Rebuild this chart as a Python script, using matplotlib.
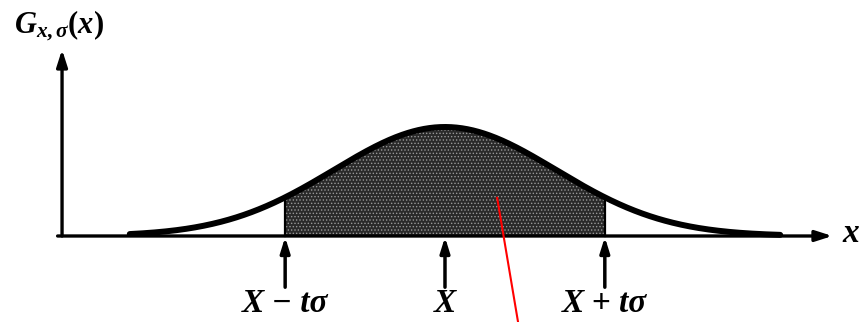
import numpy as np
import matplotlib
matplotlib.use('Agg')
import matplotlib.pyplot as plt

# Gaussian parameters (X = mean, sigma = width, t = number of sigmas shaded)
x_mean = 0.0
sigma = 1.0
t = 1.44
tick_positions = [x_mean - t * sigma, x_mean, x_mean + t * sigma]
tick_labels = ['X \u2212 t\u03c3', 'X', 'X + t\u03c3']
# pointer line drawn over the shaded area (x, fraction of peak height)
pointer_x = [0.47, 0.66]
pointer_y = [0.35, -0.80]

plt.rcParams['mathtext.fontset'] = 'custom'
plt.rcParams['mathtext.it'] = 'Liberation Serif:italic:bold'
plt.rcParams['mathtext.rm'] = 'Liberation Serif:bold'
plt.rcParams['hatch.linewidth'] = 0.6

serif = dict(family='Liberation Serif', style='italic', weight='bold')

peak = 1.0 / (sigma * np.sqrt(2 * np.pi))


def gauss(x):
    return peak * np.exp(-0.5 * ((x - x_mean) / sigma) ** 2)


fig = plt.figure(figsize=(8.61, 3.22), dpi=100)
ax = fig.add_axes([0, 0, 1, 1])
ax.set_xlim(-4.009, 3.748)
ax.set_ylim(-0.789 * peak, 2.165 * peak)
ax.axis('off')

# shaded region between X - t*sigma and X + t*sigma
xs = np.linspace(tick_positions[0], tick_positions[2], 300)
ax.fill_between(xs, 0, gauss(xs), facecolor='#2a2a2a', edgecolor='#999999',
                hatch='.....', linewidth=0, zorder=2)
for xe in (tick_positions[0], tick_positions[2]):
    ax.plot([xe, xe], [0, gauss(xe)], color='black', lw=1.6, zorder=3)

# the curve itself
xc = np.linspace(-2.84, 3.02, 600)
ax.plot(xc, gauss(xc), color='black', lw=4.3, solid_capstyle='round', zorder=4)

# axes with arrow heads
arrow = dict(arrowstyle='-|>,head_length=1.0,head_width=0.32', color='black',
             lw=2.4, shrinkA=0, shrinkB=0)
ax.annotate('', xy=(3.49, 0), xytext=(-3.49, 0), arrowprops=arrow, zorder=5)
ax.annotate('', xy=(-3.45, 1.71 * peak), xytext=(-3.45, 0), arrowprops=arrow, zorder=5)
ax.text(3.66, 0.02 * peak, 'x', fontsize=24, ha='center', va='center', **serif)
ax.text(-3.88, 1.93 * peak, r'$G_{x,\sigma}(x)$', fontsize=22, ha='left', va='center')

# tick arrows and labels below the axis
small_arrow = dict(arrowstyle='-|>,head_length=0.9,head_width=0.28', color='black',
                   lw=2.5, shrinkA=0, shrinkB=0)
for pos, lab in zip(tick_positions, tick_labels):
    ax.annotate('', xy=(pos, -0.01 * peak), xytext=(pos, -0.47 * peak),
                arrowprops=small_arrow, zorder=5)
    ax.text(pos, -0.62 * peak, lab, fontsize=24, ha='center', va='center', **serif)

ax.plot(pointer_x, np.array(pointer_y) * peak, color='red', lw=1.5, zorder=6,
        clip_on=False)

fig.savefig('out.png', dpi=100)
